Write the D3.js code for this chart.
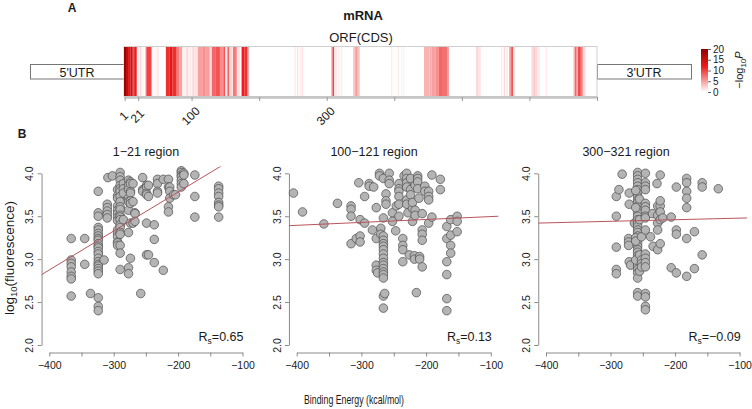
<!DOCTYPE html>
<html><head><meta charset="utf-8">
<script src="https://cdn.jsdelivr.net/npm/d3@7"></script>
<style>body{margin:0;background:#fff}svg{display:block;font-family:"Liberation Sans",Arial,Helvetica,sans-serif}</style>
</head><body><svg id="c" width="752" height="409"></svg>
<script>
// ---------- Panel A data ----------
const orfLength = 700;
const orfTicks = [1, 21, 100, 200, 300, 400, 500, 600, 700];
const orfTickLabels = ["1", "21", "100", "", "300", "", "", "", ""];
// [start, end, -log10 P] stripes along the ORF
const stripes = [
  [0,3,19],[3,6,16],[6,10,13],[10,13,15],[13,15,9],[15,19,12],
  [19,22,1],[23,26,2],[26,30,0.5],[31,33,3],[33,41,10],
  [41,48,0.3],[48,52,1],
  [62,67,11],[67,72,13],[72,78,11],[78,82,7],[82,86,5],
  [86,92,0.8],[92,95,2],[95,100,1],[101,104,2],[104,108,1.5],
  [109,117,5],[117,121,6],[121,127,5],
  [127,130,2],[130,136,8],[136,142,9],[142,147,6],[147,150,9],
  [150,153,1],[153,156,8],[156,160,2],[161,167,7],[167,172,1.5],
  [174,178,12],[178,183,11],[183,185,4],
  [252,254,1],[256,258,1.5],[260,262,1],[263,265,1.5],
  [307,309,6],[309,311,10],[312,315,1.5],[317,319,1],[321,323,1],
  [339,342,3],[342,346,5],[346,349,3],
  [395,397,1],[405,407,1],[410,412,0.7],[413,415,0.7],
  [444,452,4],[452,455,4.5],[455,461,5],[461,466,6],[466,472,8],[472,478,7.5],[478,481,5],
  [521,524,2],[524,528,1.5],
  [558,560,1],[562,564,2],[566,568,1.5],[570,573,5],[573,576,9],[576,578,2],
  [603,606,2],[606,609,3],[609,612,2],[613,615,1.5],[624,626,1],
  [665,667,3],[667,670,8],[670,672,4],[672,676,10],[676,679,7],[679,683,2]
];
const legendTicks = [0, 5, 10, 15, 20];

// ---------- Panel B data ----------
const regionTitles = ["1\u221221 region", "100\u2212121 region", "300\u2212321 region"];
const rsValues = ["0.65", "0.13", "\u22120.09"];
const fitAtLeft = [2.82, 3.39, 3.42];   // fitted value at x = -412
const fitAtRight = [4.29, 3.50, 3.48];  // fitted value at x = -88
const xTicks = [-400, -350, -300, -250, -200, -150, -100];
const yTicks = [2.0, 2.5, 3.0, 3.5, 4.0];

// [binding energy, list of log10 fluorescence values]
const region1 = [
  [-366,[3.24,2.99,2.95,2.91,2.85,2.80,2.77,2.57]],
  [-345,[3.24,2.94]],[-336,[2.60]],
  [-324,[3.79,3.54,3.50,3.37,3.34,3.30,3.27,3.24,3.22,3.18,3.15,3.13,3.09,3.06,3.01,2.97,2.94,2.92,2.89,2.86,2.83,2.55,2.45,2.40]],
  [-315,[2.99]],[-310,[3.64,3.60,3.56,3.52,3.48]],[-309,[3.95]],[-302,[3.97]],
  [-294,[3.81,3.74,3.71,3.62,3.57,3.53,3.49,3.45,3.34,3.30,3.26,3.20,3.19,3.16]],
  [-290,[4.01,3.96,3.92,3.86,3.82,3.79,3.73,3.67,3.61,3.58,3.51,3.49,3.46,3.40,3.37,3.31,3.29,3.16,3.07,2.88]],
  [-285,[3.88,3.82,3.77,3.46]],
  [-277,[3.92,3.86,3.81,3.71,3.67,3.57,3.31,2.90,2.83]],
  [-274,[3.90,3.88,3.79,3.77,3.68,3.65,3.42,3.01]],
  [-270,[3.88,3.67,3.42]],[-267,[3.54,3.53,3.44]],[-258,[2.60]],
  [-255,[3.95,3.81,3.79]],[-249,[3.86,3.84,3.77,3.75,3.42,3.05]],
  [-246,[3.86,3.73,3.05]],[-237,[3.40,3.23,2.96]],[-232,[3.93,3.88,3.79,3.77]],
  [-223,[3.93,2.87]],[-215,[3.93,3.84,3.61,3.55]],[-213,[3.84,3.79,3.71]],
  [-207,[3.75]],[-204,[3.75]],[-195,[4.03,4.01,3.98,3.96,3.92,3.88,3.84]],
  [-191,[4.00,3.98,3.88]],[-174,[3.98,3.73,3.49]],
  [-137,[3.85,3.82,3.77,3.73,3.66,3.63,3.61,3.49]]
];
const region2 = [
  [-405,[3.77]],[-391,[3.55]],[-358,[3.41]],[-337,[3.65]],
  [-316,[3.62,3.58,3.50,3.18]],[-308,[3.24]],[-304,[3.89]],[-302,[3.46,3.27,3.20]],
  [-295,[3.73,3.42]],[-288,[3.88,3.85]],[-283,[3.34]],[-281,[3.84]],
  [-277,[3.60,3.24,2.93,2.87]],[-275,[2.84]],[-272,[4.00,3.97]],[-270,[3.36,3.29]],
  [-266,[3.94,3.48,3.27,3.22,3.18,3.15,3.11,3.06,3.01,2.96,2.93,2.89,2.85,2.82,2.78,2.57,2.43]],
  [-264,[2.60]],[-262,[3.76,3.68,3.64]],[-257,[4.00,3.92,3.88]],[-252,[3.54,3.44]],
  [-247,[3.33]],[-246,[3.62]],[-242,[3.88,3.82,3.79,3.73,3.64,3.50]],
  [-236,[3.24,3.16,3.11,2.97]],[-234,[3.97]],[-230,[4.00,3.94,3.89,3.84,3.69,3.64]],
  [-228,[3.54]],[-226,[3.05]],[-224,[3.94,3.81,3.75]],[-221,[3.44,3.59,3.66]],
  [-218,[3.04,3.00]],[-217,[3.86,3.57,3.51]],[-215,[2.61]],[-213,[3.97,3.94,3.90,3.82]],
  [-211,[3.71]],[-210,[3.03,3.00]],[-206,[3.53,3.34,3.29,3.22,2.91]],[-202,[3.85,3.79]],
  [-196,[3.79,3.73,3.69,3.42]],[-191,[3.98,3.49]],[-178,[3.93,3.81]],
  [-168,[3.38,3.24,2.97,2.82,2.54,2.40]],[-162,[3.46,3.28,3.16,3.07]],[-152,[3.50,3.44,3.32]]
];
const region3 = [
  [-291,[3.73,3.50,3.14,2.88,2.83]],[-287,[3.81]],[-282,[3.99]],
  [-271,[3.77,3.64,2.97]],[-272,[3.24,3.20,3.16]],[-269,[2.93]],[-263,[3.42]],
  [-258,[4.01,3.97,3.93,3.89,3.85,3.81,3.77,3.73,3.69,3.66,3.62,3.58,3.54,3.50,3.46,3.42,3.38,3.34,3.31,3.27,3.23,3.19,3.15,3.11,3.08,3.04,3.00,2.96,2.92,2.88,2.84,2.78,2.61,2.57]],
  [-261,[3.25,3.21,2.99,3.60,3.80]],[-255,[3.70,3.46,3.05,2.86]],[-252,[2.99,2.95,2.91,3.26]],
  [-246,[4.00,3.89,3.85,3.81,3.65,3.61,3.57,3.50,3.48,3.34,3.06,3.01,2.96,2.91,2.60,2.56,2.45,2.41]],
  [-238,[3.26]],[-235,[3.53]],[-234,[3.15]],[-228,[3.88]],[-227,[3.62,3.51,3.42,3.34,3.11]],
  [-223,[3.98,3.62,3.55,3.68,3.46,3.18]],[-219,[3.48]],[-206,[3.49,2.90]],
  [-198,[3.84,3.34,3.29,2.84]],[-182,[3.94,3.89,3.79,3.71,3.60,3.24,2.80]],
  [-170,[3.32,2.89]],[-158,[3.89,3.84,3.05]],[-133,[3.82]]
];
const regions = [region1, region2, region3];

// ---------- Drawing ----------
const svg = d3.select("#c");
const TXT = "#1a1a1a", AX = "#8a8a8a";

// Panel A
svg.append("text").attr("x", 72).attr("y", 12).attr("text-anchor", "middle")
  .attr("font-weight", "bold").attr("font-size", 12).attr("fill", TXT).text("A");
svg.append("text").attr("x", 363).attr("y", 20).attr("text-anchor", "middle")
  .attr("font-weight", "bold").attr("font-size", 13).attr("fill", TXT).text("mRNA");
svg.append("text").attr("x", 361).attr("y", 42).attr("text-anchor", "middle")
  .attr("font-size", 13).attr("fill", TXT).text("ORF(CDS)");

const xPos = d3.scaleLinear().domain([0, orfLength]).range([124, 597]);
const heat = d3.scaleLinear().domain([0, 12, 20]).range(["#ffffff", "#ee1b1b", "#8b0000"]).clamp(true);

// UTR boxes
[["5'UTR", 30, 124], ["3'UTR", 597, 691]].forEach(([lab, x0, x1]) => {
  svg.append("rect").attr("x", x0 + 0.5).attr("y", 64.5).attr("width", x1 - x0).attr("height", 14.5)
    .attr("fill", "#fff").attr("stroke", "#777").attr("stroke-width", 1);
  svg.append("text").attr("x", (x0 + x1) / 2).attr("y", 76.5).attr("text-anchor", "middle")
    .attr("font-size", 12.5).attr("fill", TXT).text(lab);
});

// ORF box
svg.append("rect").attr("x", 124).attr("y", 46.5).attr("width", 473).attr("height", 50)
  .attr("fill", "#fff").attr("stroke", "#cfcfcf");
svg.append("g").selectAll("rect").data(stripes).join("rect")
  .attr("x", d => xPos(d[0])).attr("y", 47).attr("width", d => xPos(d[1]) - xPos(d[0]))
  .attr("height", 49).attr("fill", d => heat(d[2]));

// ORF axis
const orfAxis = d3.axisBottom(xPos).tickValues(orfTicks).tickSize(4).tickSizeOuter(0)
  .tickFormat(() => "");
const oa = svg.append("g").attr("transform", "translate(0,97)").call(orfAxis);
oa.select(".domain").attr("stroke", "#c4c4c4").attr("stroke-width", 2.5);
oa.selectAll(".tick line").attr("stroke", "#999");
svg.append("g").selectAll("text").data(orfTicks.map((t, i) => [t, orfTickLabels[i]]).filter(d => d[1]))
  .join("text")
  .attr("transform", d => `translate(${xPos(d[0]) - 1},${116}) rotate(-45)`)
  .attr("text-anchor", "middle").attr("dy", "0.35em")
  .attr("font-size", 12).attr("fill", TXT).text(d => d[1]);

// Legend
const legY = d3.scaleLinear().domain([0, 20]).range([92, 49]);
const defs = svg.append("defs");
const grad = defs.append("linearGradient").attr("id", "lg").attr("x1", 0).attr("y1", 1).attr("x2", 0).attr("y2", 0);
[0, 4, 8, 12, 16, 20].forEach(v => grad.append("stop").attr("offset", v / 20).attr("stop-color", heat(v)));
svg.append("rect").attr("x", 701).attr("y", 49).attr("width", 7).attr("height", 43).attr("fill", "url(#lg)");
const la = svg.append("g").attr("transform", "translate(708,0)")
  .call(d3.axisRight(legY).tickValues(legendTicks).tickSize(3).tickSizeOuter(0));
la.select(".domain").remove();
la.selectAll(".tick line").attr("stroke", "#666");
la.selectAll("text").attr("font-size", 10).attr("x", 5).attr("fill", TXT).attr("font-family", "Liberation Sans, Arial, sans-serif");
const lt = svg.append("text").attr("transform", "translate(743,70) rotate(-90)")
  .attr("text-anchor", "middle").attr("font-size", 11).attr("fill", TXT);
lt.append("tspan").text("\u2212log");
lt.append("tspan").attr("font-size", 8).attr("dy", 3).text("10");
lt.append("tspan").attr("dy", -3).attr("font-style", "italic").text("P");

// Panel B
svg.append("text").attr("x", 22).attr("y", 138).attr("text-anchor", "middle")
  .attr("font-weight", "bold").attr("font-size", 12).attr("fill", TXT).text("B");
const yl = svg.append("text").attr("transform", "translate(14,258) rotate(-90)")
  .attr("text-anchor", "middle").attr("font-size", 13.5).attr("fill", TXT);
yl.append("tspan").text("log");
yl.append("tspan").attr("font-size", 9.5).attr("dy", 3).text("10");
yl.append("tspan").attr("dy", -3).text("(fluorescence)");
svg.append("text").attr("x", 354).attr("y", 404).attr("text-anchor", "middle")
  .attr("font-size", 13.5).attr("fill", TXT).attr("textLength", 100).attr("lengthAdjust", "spacingAndGlyphs")
  .text("Binding Energy (kcal/mol)");

const panelRanges = [[49.3, 242.5], [296.7, 490.8], [546, 739.6]];
const titleX = [146, 374, 626];
const y = d3.scaleLinear().domain([2, 4]).range([345, 173.3]);

regions.forEach((reg, i) => {
  const x = d3.scaleLinear().domain([-400, -100]).range(panelRanges[i]);
  const g = svg.append("g");
  const left = x(-412), right = x(-88), top = y(4.08), bottom = y(1.92);
  defs.append("clipPath").attr("id", "cp" + i).append("rect")
    .attr("x", left).attr("y", top).attr("width", right - left).attr("height", bottom - top);

  // y axis
  const ya = g.append("g").attr("transform", `translate(${left},0)`)
    .call(d3.axisLeft(y).tickValues(yTicks).tickSize(4).tickSizeOuter(0).tickFormat(d3.format(".1f")));
  ya.select(".domain").attr("stroke", AX);
  ya.selectAll(".tick line").attr("stroke", AX);
  ya.selectAll("text").attr("x", 0).attr("dy", 0).attr("text-anchor", "middle")
    .attr("transform", "translate(-8.3,0) rotate(-90)").attr("font-size", 10.5).attr("fill", TXT)
    .attr("font-family", "Liberation Sans, Arial, sans-serif");

  // x axis
  const xa = g.append("g").attr("transform", "translate(0,352.5)")
    .call(d3.axisBottom(x).tickValues(xTicks).tickSize(4).tickSizeOuter(0)
      .tickFormat(v => v % 100 === 0 ? d3.format("d")(v) : ""));
  xa.select(".domain").attr("stroke", AX);
  xa.selectAll(".tick line").attr("stroke", AX);
  xa.selectAll("text").attr("y", 9).attr("dy", "0.71em").attr("font-size", 10.5).attr("fill", TXT)
    .attr("font-family", "Liberation Sans, Arial, sans-serif");

  // points
  const pts = reg.flatMap(([bx, ys]) => ys.map(v => [bx, v]));
  g.append("g").selectAll("circle").data(pts).join("circle")
    .attr("cx", d => x(d[0])).attr("cy", d => y(d[1])).attr("r", 4.3)
    .attr("fill", "#b4b4b4").attr("stroke", "#4a4a4a").attr("stroke-width", 0.7);

  // regression line
  g.append("line").attr("clip-path", `url(#cp${i})`)
    .attr("x1", x(-412)).attr("y1", y(fitAtLeft[i])).attr("x2", x(-88)).attr("y2", y(fitAtRight[i]))
    .attr("stroke", "#b8545c").attr("stroke-width", 1);

  // title
  g.append("text").attr("x", titleX[i]).attr("y", 156).attr("text-anchor", "middle")
    .attr("font-size", 12.5).attr("fill", TXT).text(regionTitles[i]);

  // Rs
  const rs = g.append("text").attr("x", panelRanges[i][1] + 1).attr("y", 341).attr("text-anchor", "end")
    .attr("font-size", 12.5).attr("fill", TXT);
  rs.append("tspan").text("R");
  rs.append("tspan").attr("font-size", 8.5).attr("dy", 3).text("s");
  rs.append("tspan").attr("dy", -3).text("=" + rsValues[i]);
});
</script></body></html>
